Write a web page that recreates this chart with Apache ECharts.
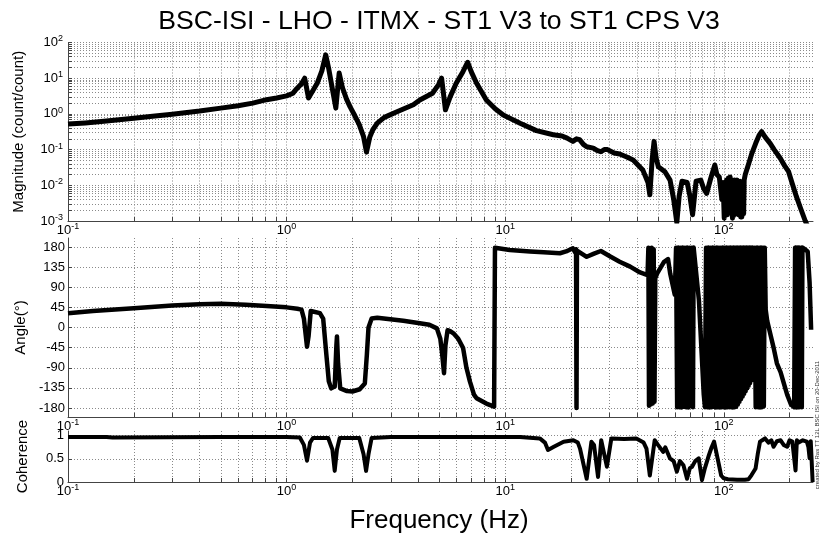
<!DOCTYPE html>
<html>
<head>
<meta charset="utf-8">
<script src="https://cdn.jsdelivr.net/npm/echarts@6/dist/echarts.min.js"></script>
<style>
  html, body { margin: 0; padding: 0; background: #fff; }
  #chart { width: 827px; height: 541px; }
</style>
</head>
<body>
<div id="chart"></div>
<script>
// ---- Transfer function: ST1 V3 drive -> ST1 CPS V3 readback ----

// Magnitude (count/count) vs frequency (Hz)
const magFreq = [
  0.1, 0.12, 0.15, 0.2, 0.25, 0.3, 0.4, 0.5, 0.6, 0.7, 0.81, 0.9, 1.0, 1.07, 1.11, 1.17,
  1.21, 1.26, 1.32, 1.38, 1.45, 1.51, 1.56, 1.62, 1.68, 1.74, 1.8, 1.88, 1.95, 2.05, 2.15,
  2.25, 2.32, 2.4, 2.48, 2.6, 2.8, 3.2, 3.8, 4.07, 4.65, 4.95, 5.12, 5.33, 5.6, 5.97, 6.4,
  6.73, 7.0, 7.4, 8.2, 9.0, 9.8, 11.7, 13.9, 16.6, 18.2, 19.2, 20.4, 21.2, 21.9, 22.8, 23.6,
  25.3, 26.3, 27.4, 28.4, 29.4, 31.5, 33.4, 36, 38.5, 42.6, 45, 45.9, 47, 48, 49, 50.2, 53.8,
  56.8, 59, 61, 62.5, 64.4, 68, 70, 72, 74.7, 78.5, 81, 83.5, 87, 91, 93, 95.4, 98, 99.3,
  100.5, 101.3, 102, 103, 104, 105, 105.9, 107, 108, 108.8, 109.6, 110.4, 111, 112, 112.8,
  113.5, 114.3, 115, 116.5, 117.2, 118, 118.8, 119.5, 120.3, 121, 122.5, 123.3, 124, 125.4,
  130, 134.6, 140, 145, 149, 155, 163, 170, 181, 190, 198, 205, 215, 225, 236, 245
];
const magValues = [
  0.52, 0.56, 0.63, 0.76, 0.87, 0.98, 1.2, 1.45, 1.7, 2.0, 2.5, 2.8, 3.2, 3.8, 5.0, 7.0,
  10, 2.8, 4.5, 7.2, 16, 45, 18, 5, 1.45, 14, 5.5, 2.6, 1.6, 0.9, 0.5,
  0.23, 0.085, 0.22, 0.36, 0.55, 0.8, 1.15, 1.8, 2.45, 3.8, 6.5, 10, 1.3, 3, 7.2, 15,
  28, 15, 7.2, 2.45, 1.4, 0.93, 0.55, 0.34, 0.26, 0.24, 0.21, 0.17, 0.2, 0.19, 0.14, 0.12,
  0.11, 0.095, 0.087, 0.1, 0.1, 0.08, 0.075, 0.062, 0.051, 0.027, 0.012, 0.0054, 0.05, 0.17, 0.06, 0.033, 0.024,
  0.014, 0.004, 0.0009, 0.005, 0.013, 0.012, 0.005, 0.0015, 0.013, 0.014, 0.008, 0.0059, 0.015, 0.037, 0.02, 0.017, 0.004, 0.012,
  0.0012, 0.01, 0.003, 0.014, 0.0015, 0.016, 0.0018, 0.017, 0.002, 0.013, 0.0012, 0.011, 0.0014, 0.014, 0.0016,
  0.013, 0.002, 0.014, 0.0015, 0.012, 0.0018, 0.013, 0.0013, 0.012, 0.0013, 0.011, 0.0016, 0.014, 0.02,
  0.04, 0.08, 0.15, 0.25, 0.32, 0.22, 0.15, 0.1, 0.058, 0.035, 0.024, 0.012, 0.0048, 0.0022, 0.001, 0.0006
];

// Phase (degrees) vs frequency (Hz)
const phaseFreq = [
  0.1, 0.13, 0.2, 0.3, 0.4, 0.5, 0.65, 0.81, 1.0, 1.12, 1.17, 1.2, 1.24, 1.26, 1.29, 1.42,
  1.47, 1.52, 1.56, 1.6, 1.66, 1.69, 1.7, 1.72, 1.76, 1.89, 2.0, 2.16, 2.28, 2.33, 2.37,
  2.45, 2.6, 3.42, 4.0, 4.5, 4.87, 5.05, 5.15, 5.25, 5.33, 5.45, 5.6, 5.8, 6.1, 6.42, 6.65,
  6.9, 7.2, 7.4, 8.2, 8.9, 8.98, 10.5, 13, 15, 17.8, 19, 20.4, 20.9, 21.1, 21.2, 21.3,
  23.6, 25.5, 27.4, 30.4, 33.4, 37.3, 41.4, 44.8, 45.2, 45.5, 45.9, 46.3, 46.8, 47.3, 47.8,
  48.2, 48.6, 49.6, 53.2, 55.6, 56.9, 59.7, 60.5, 61.2, 61.9, 62.6, 63.3, 64, 64.8, 65.6,
  66.4, 67.2, 68, 68.8, 69.6, 70.5, 71.4, 72.3, 72.8, 77, 81, 82, 83, 84, 85, 86, 87, 88,
  89, 90, 91, 92, 93, 94, 95, 96, 97, 98, 99, 100, 101, 102, 103, 104, 105, 106, 107, 108,
  109, 110, 111, 112, 113, 114, 115, 116, 117, 118, 119, 120, 121, 122, 123, 124, 125, 126,
  127, 128, 129, 130, 131, 132, 133, 134, 135, 136, 138, 140, 142, 143.5, 145, 146.5, 148,
  149.5, 151, 152.5, 154, 155.5,
  158, 163, 169, 175, 182, 188, 195, 203, 210, 212, 212.5, 214, 215.5, 217, 218.5, 220,
  221.5, 223, 224.5, 226, 227.5, 229, 231, 236, 242, 247, 251, 255
];
const phaseValues = [
  32, 37, 43, 49, 52, 53, 51, 48, 45, 42, 40, 20, -43, -20, 37, 32,
  20, -60, -120, -136, -132, -40, -20, -80, -136, -142, -143, -138, -125, -60, 0,
  20, 22, 15, 10, 6, -2, -25, -60, -102, -40, -6, -8, -13, -25, -46, -90,
  -121, -150, -158, -170, -177, 178, 173, 170, 168, 166, 170, 177, 168, 175, -180, 172,
  158, 165, 171, 158, 147, 136, 123, 117, 178, -175, 176, -172, 178, -170, 175,
  -166, 110, 121, 146, 153, 120, 73, 178, -178, 179, -178, 178, -179, 179, -177,
  178, -178, 179, -179, 178, -176, 178, -178, 179, 60, -150, -178, 178, -178, 179, -179, 178, -178,
  179, -177, 178, -179, 179, -178, 178, -179, 178, -178, 179, -178, 178, -179, 179, -178, 178, -178,
  179, -178, 178, -179, 179, -178, 178, -177, 179, -172, 178, -166, 179, -160, 178, -154, 179, -148,
  178, -142, 179, -136, 178, -130, 179, -124, 178, -118, 179, -100, 178, -178, 179, -178, 178,
  -179, 179, -178, 178, -176, 178,
  40, 15, -13, -45, -80, -100, -124, -150, -172, -178, 178, -178, 179, -179, 178, -178,
  179, -178, 178, -177, 178, -178, 179, 176, 174, 170, 100, -5
];

// Coherence vs frequency (Hz)
const cohFreq = [
  0.1, 0.15, 0.16, 0.5, 1.0, 1.15, 1.2, 1.24, 1.28, 1.32, 1.55, 1.62, 1.66, 1.7, 1.75,
  2.15, 2.25, 2.31, 2.37, 2.45, 3, 5, 10, 11.7, 14.4, 15.2, 15.7, 16.7, 18.5, 20.5, 21.5,
  22, 23.6, 24.8, 25.5, 26.6, 27.5, 29.2, 30.6, 35, 39.8, 43, 44.3, 45.9, 48.3, 50, 52.8,
  54, 56.7, 59, 61, 63, 65.4, 67.9, 70, 71.6, 74, 76.8, 79.5, 82, 85.5, 88, 90.3, 93.7,
  97.3, 100, 104.5, 115, 125, 129.9, 134, 139.8, 143, 146.5, 150, 154.5, 160, 165, 169,
  175, 182, 188, 195, 200, 206, 210, 213, 216, 220, 230, 240, 244, 247, 250, 253, 255
];
const cohValues = [
  0.97, 0.97, 0.96, 0.97, 0.97, 0.96, 0.8, 0.46, 0.85, 0.95, 0.95, 0.7, 0.24, 0.7, 0.95,
  0.95, 0.6, 0.24, 0.6, 0.95, 0.97, 0.97, 0.97, 0.97, 0.94, 0.85, 0.69, 0.76, 0.87, 0.9, 0.85,
  0.72, 0.07, 0.87, 0.8, 0.11, 0.9, 0.33, 0.94, 0.93, 0.94, 0.85, 0.72, 0.14, 0.9, 0.8, 0.65,
  0.75, 0.51, 0.45, 0.22, 0.45, 0.36, 0.07, 0.3, 0.33, 0.45, 0.51, 0.04, 0.3, 0.58, 0.75, 0.87, 0.51,
  0.14, 0.08, 0.06, 0.05, 0.05, 0.06, 0.15, 0.29, 0.6, 0.87, 0.9, 0.94, 0.85, 0.9, 0.76,
  0.88, 0.9, 0.8, 0.76, 0.9, 0.87, 0.85, 0.25, 0.9, 0.85, 0.9, 0.87, 0.75, 0.51, 0.88, 0.85, 0
];

// Axis tick labels
const freqDecades = [0.1, 1, 10, 100];
const magDecades = [0.001, 0.01, 0.1, 1, 10, 100];
const phaseTicks = [-180, -135, -90, -45, 0, 45, 90, 135, 180];
const cohTicks = [0, 0.5, 1];

const FONT = '"Liberation Sans", Arial, Helvetica, sans-serif';
const FREQ_MIN = 0.1, FREQ_MAX = 256;

// 1..9 x 10^k positions for log grid lines, limited to [lo, hi]
function logGrid(decades, lo, hi) {
  const out = [];
  decades.forEach(d => {
    for (let k = 1; k <= 9; k++) {
      const v = +(d * k).toPrecision(3);
      if (v >= lo && v <= hi) out.push(v);
    }
  });
  return out;
}
const freqGrid = logGrid(freqDecades, FREQ_MIN, FREQ_MAX);
const magGrid = logGrid(magDecades, 0.001, 100);

const pairs = (xs, ys) => xs.map((x, i) => [x, ys[i]]);

const powLabel = v => '{b|10}{s|' + Math.round(Math.log10(v)) + '}';
const powRich = {
  b: { fontSize: 13, fontFamily: FONT, color: '#000', lineHeight: 16 },
  s: { fontSize: 9, fontFamily: FONT, color: '#000', lineHeight: 9, verticalAlign: 'top' }
};

const gridLine = { show: true, lineStyle: { color: '#8a8a8a', type: [1, 2], width: 1 } };
const axisLineStyle = { show: true, onZero: false, lineStyle: { color: '#444', width: 1 } };

function freqAxis(gridIndex) {
  return {
    type: 'log', gridIndex, min: FREQ_MIN, max: FREQ_MAX, logBase: 10,
    axisLine: axisLineStyle,
    axisTick: { show: true, inside: true, length: 4, customValues: freqGrid, lineStyle: { color: '#444' } },
    axisLabel: { customValues: freqDecades, formatter: powLabel, rich: powRich, margin: 1 },
    splitLine: gridLine,
    minorTick: { show: false }, minorSplitLine: { show: false }
  };
}

const chart = echarts.init(document.getElementById('chart'), null, { renderer: 'canvas' });

chart.setOption({
  animation: false,
  backgroundColor: '#fff',
  grid: [
    { left: 68, right: 14, top: 42.5, height: 178.5 },
    { left: 68, right: 14, top: 238, height: 179 },
    { left: 68, right: 14, top: 431, height: 51 }
  ],
  xAxis: [freqAxis(0), freqAxis(1), freqAxis(2)],
  yAxis: [
    {
      type: 'log', gridIndex: 0, min: 0.001, max: 100, logBase: 10,
      name: 'Magnitude (count/count)', nameLocation: 'middle', nameGap: 42, nameRotate: 90,
      nameTextStyle: { fontSize: 15, fontFamily: FONT, color: '#000' },
      axisLine: axisLineStyle,
      axisTick: { show: true, inside: true, length: 4, customValues: magGrid, lineStyle: { color: '#444' } },
      axisLabel: { customValues: magDecades, formatter: powLabel, rich: powRich, margin: 5 },
      splitLine: gridLine
    },
    {
      type: 'value', gridIndex: 1, min: -200, max: 200,
      name: 'Angle(°)', nameLocation: 'middle', nameGap: 33, nameRotate: 90,
      nameTextStyle: { fontSize: 15, fontFamily: FONT, color: '#000' },
      axisLine: axisLineStyle,
      axisTick: { show: true, inside: true, length: 4, customValues: phaseTicks, lineStyle: { color: '#444' } },
      axisLabel: { customValues: phaseTicks, fontSize: 13, fontFamily: FONT, color: '#000', margin: 3 },
      splitLine: gridLine
    },
    {
      type: 'value', gridIndex: 2, min: 0, max: 1.1,
      name: 'Coherence', nameLocation: 'middle', nameGap: 38, nameRotate: 90,
      nameTextStyle: { fontSize: 15, fontFamily: FONT, color: '#000' },
      axisLine: axisLineStyle,
      axisTick: { show: true, inside: true, length: 4, customValues: cohTicks, lineStyle: { color: '#444' } },
      axisLabel: { customValues: cohTicks, fontSize: 13, fontFamily: FONT, color: '#000', margin: 4 },
      splitLine: gridLine
    }
  ],
  series: [
    {
      type: 'line', xAxisIndex: 0, yAxisIndex: 0, data: pairs(magFreq, magValues),
      showSymbol: false, clip: true,
      lineStyle: { color: '#000', width: 5, join: 'round' }
    },
    {
      type: 'line', xAxisIndex: 1, yAxisIndex: 1, data: pairs(phaseFreq, phaseValues),
      showSymbol: false, clip: true,
      lineStyle: { color: '#000', width: 4.5, join: 'round' }
    },
    {
      type: 'line', xAxisIndex: 2, yAxisIndex: 2, data: pairs(cohFreq, cohValues),
      showSymbol: false, clip: true,
      lineStyle: { color: '#000', width: 4, join: 'round' }
    }
  ],
  graphic: [
    {
      type: 'text', x: 439, y: 22,
      style: { text: 'BSC-ISI - LHO - ITMX - ST1 V3 to ST1 CPS V3', font: '26.6px ' + FONT,
               fill: '#000', align: 'center', verticalAlign: 'middle' }
    },
    {
      type: 'text', x: 439, y: 521,
      style: { text: 'Frequency (Hz)', font: '26px ' + FONT,
               fill: '#000', align: 'center', verticalAlign: 'middle' }
    },
    {
      type: 'text', x: 817, y: 425, rotation: Math.PI / 2,
      style: { text: 'created by Ras TT 12L BSC ISI on 20-Dec-2011', font: '6px ' + FONT,
               fill: '#333', align: 'center', verticalAlign: 'middle' }
    }
  ]
});
</script>
</body>
</html>
